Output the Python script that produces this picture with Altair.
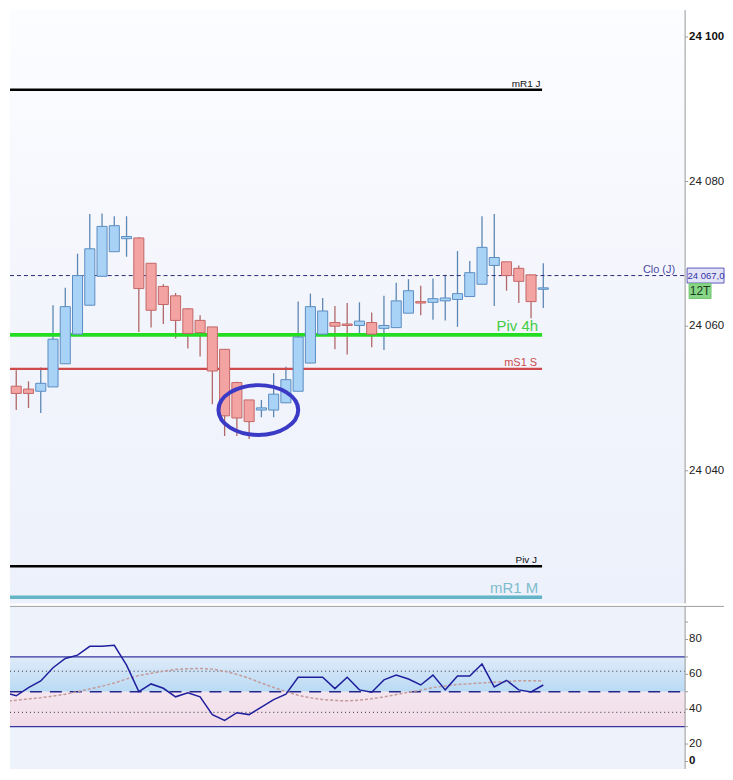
import altair as alt
import pandas as pd

# ---------------- data ----------------
opens = [24051.2, 24051.7, 24051.3, 24051.0, 24051.6, 24054.8, 24058.9, 24062.9, 24066.9, 24070.3,
         24072.1, 24072.2, 24068.7, 24065.5, 24064.2, 24062.4, 24060.8, 24059.9, 24056.8, 24052.2,
         24049.8, 24048.4, 24048.4, 24049.4, 24051.0, 24054.9, 24058.9, 24060.5, 24060.3, 24060.1,
         24060.5, 24059.7, 24059.8, 24061.8, 24063.4, 24063.3, 24063.5, 24063.7, 24064.1, 24065.8,
         24068.4, 24068.9, 24068.0, 24067.1, 24065.1]
highs = [24054.8, 24053.9, 24052.4, 24054.3, 24062.9, 24065.3, 24070.0, 24075.5, 24075.6, 24075.2,
         24075.2, 24072.3, 24068.7, 24065.8, 24064.6, 24062.5, 24061.5, 24059.9, 24056.8, 24052.3,
         24049.8, 24049.8, 24053.5, 24054.4, 24063.4, 24064.5, 24063.9, 24062.8, 24063.2, 24063.3,
         24061.9, 24064.2, 24066.0, 24066.5, 24065.6, 24066.6, 24067.1, 24070.4, 24069.0, 24075.2,
         24075.5, 24068.9, 24068.4, 24067.1, 24068.7]
lows = [24049.7, 24048.4, 24048.7, 24048.0, 24051.6, 24054.8, 24058.9, 24062.9, 24066.9, 24070.3,
        24069.6, 24059.2, 24059.8, 24060.3, 24058.3, 24056.9, 24055.8, 24049.2, 24044.8, 24044.8,
        24044.4, 24047.4, 24047.4, 24049.4, 24051.0, 24054.9, 24058.9, 24056.8, 24056.1, 24058.8,
        24057.1, 24056.7, 24059.8, 24061.8, 24061.5, 24060.9, 24060.8, 24059.9, 24064.1, 24065.8,
        24062.8, 24064.9, 24063.2, 24061.1, 24062.5]
closes = [24052.2, 24050.7, 24050.7, 24052.1, 24058.2, 24062.7, 24067.0, 24070.7, 24073.8, 24073.9,
          24072.4, 24065.2, 24062.2, 24063.0, 24060.8, 24059.0, 24059.1, 24053.8, 24047.6, 24047.3,
          24046.8, 24048.7, 24050.6, 24052.6, 24058.5, 24062.7, 24062.1, 24060.0, 24060.1, 24060.7,
          24058.9, 24060.1, 24063.5, 24064.9, 24063.2, 24063.8, 24063.9, 24064.5, 24067.4, 24070.9,
          24069.5, 24067.0, 24066.2, 24063.4, 24065.3]

rsi = [49.7, 47.7, 52.4, 56.2, 63.8, 69.1, 71.0, 76.1, 76.1, 76.7,
       65.3, 50.1, 54.5, 52.0, 47.1, 49.4, 47.1, 36.9, 33.6, 38.0,
       36.9, 41.2, 45.5, 48.6, 58.3, 58.3, 58.3, 51.8, 58.3, 51.1,
       49.7, 56.8, 59.6, 57.3, 53.9, 59.6, 51.1, 59.0, 59.0, 65.9,
       52.8, 56.6, 51.1, 49.9, 53.9]
rsi_ma = [44.4, 45.2, 45.9, 46.6, 47.5, 48.6, 50.1, 51.6, 53.2, 55.0,
          57.4, 59.3, 60.6, 61.8, 62.8, 63.2, 63.4, 63.0, 61.8, 60.0,
          57.8, 55.0, 52.5, 50.1, 48.0, 46.5, 45.6, 45.0, 44.8, 45.2,
          46.0, 47.0, 48.4, 49.8, 51.0, 52.4, 53.3, 54.2, 54.6, 55.1,
          55.5, 55.9, 56.3, 56.4, 56.2]

level_names = ["mR1 J", "Piv 4h", "mS1 S", "Piv J", "mR1 M"]
level_prices = [24092.7, 24058.8, 24054.1, 24026.8, 24022.5]

prev_close = 24067.0
prev_close_name = "Clo (J)"
tick_badge = "12T"
price_ticks = [24040, 24060, 24080, 24100]
rsi_ticks = [0, 10, 20, 30, 40, 50, 60, 70, 80, 90]
rsi_labels = [0, 20, 40, 60, 80]
rsi_bounds = [70, 50, 30]
rsi_fibs = [61.8, 38.2]
ellipse_center = [20.75, 24048.4]

# ---------------- layout / style ----------------
FONT = "Liberation Sans"
W = 677
H_MAIN = 595
H_RSI = 173
X_DOMAIN = [0.49, 55.57]
Y_DOMAIN = [24021.66, 24103.72]
AX = "#9a9a9a"

level_style = {
    "mR1 J": dict(color="#000000", lcolor="#111111", width=2.3, size=10, dx=-1.5, dy=-3),
    "Piv 4h": dict(color="#22dd22", lcolor="#44cc44", width=3.6, size=15, dx=-4, dy=-4),
    "mS1 S": dict(color="#cf4a4a", lcolor="#cc4c4c", width=2.2, size=11, dx=-5, dy=-3),
    "Piv J": dict(color="#000000", lcolor="#111111", width=2.3, size=10, dx=-5, dy=-3),
    "mR1 M": dict(color="#62b4c6", lcolor="#7dbccc", width=3.6, size=15, dx=-4, dy=-4),
}

n = len(opens)
idx = list(range(n))
candles = pd.DataFrame({"i": idx, "open": opens, "high": highs, "low": lows, "close": closes})
candles["dir"] = ["up" if c >= o else "down" for o, c in zip(opens, closes)]

xs = alt.Scale(domain=X_DOMAIN, nice=False, zero=False)
ys = alt.Scale(domain=Y_DOMAIN, nice=False, zero=False)

one = pd.DataFrame({"k": [0]})

bg = alt.Chart(one).mark_rect(
    color=alt.Gradient(
        gradient="linear",
        stops=[alt.GradientStop(color="#fcfdff", offset=0),
               alt.GradientStop(color="#f3f5fc", offset=0.5),
               alt.GradientStop(color="#edf1fb", offset=1)],
        x1=0, x2=0, y1=0, y2=1)
).encode(x=alt.value(0), x2=alt.value(W), y=alt.value(0), y2=alt.value(H_MAIN))

# price axis drawn from the tick list through the y scale
tick_df = pd.DataFrame({"v": price_ticks})
tick_df["bold"] = tick_df["v"] == max(price_ticks)
ax_domain = alt.Chart(one).mark_rule(color=AX, strokeWidth=1).encode(
    x=alt.value(W), y=alt.value(0), y2=alt.value(H_MAIN))
ax_ticks = alt.Chart(tick_df).mark_rule(color=AX, strokeWidth=1).encode(
    x=alt.value(W), x2=alt.value(W + 3), y=alt.Y("v:Q", scale=ys, axis=None))
ax_lbl = alt.Chart(tick_df).transform_calculate(
    lbl="replace(format(datum.v, ',d'), ',', ' ')")
ax_labels = ax_lbl.transform_filter("!datum.bold").mark_text(
    align="left", baseline="middle", fontSize=11.5, color="#222222", font=FONT).encode(
    x=alt.value(W + 4), y=alt.Y("v:Q", scale=ys, axis=None), text="lbl:N")
ax_labels_b = ax_lbl.transform_filter("datum.bold").mark_text(
    align="left", baseline="middle", fontSize=11.5, fontWeight="bold", color="#111111", font=FONT).encode(
    x=alt.value(W + 4), y=alt.Y("v:Q", scale=ys, axis=None), text="lbl:N")

wicks = alt.Chart(candles).mark_rule(strokeWidth=1.3, clip=True).encode(
    x=alt.X("i:Q", scale=xs, axis=None),
    y=alt.Y("low:Q", scale=ys, axis=None),
    y2="high:Q",
    color=alt.Color("dir:N", scale=alt.Scale(domain=["up", "down"], range=["#5d87b3", "#b06868"]), legend=None),
)

bodies = alt.Chart(candles).transform_calculate(
    xl="datum.i - 0.41", xr="datum.i + 0.41"
).mark_rect(strokeWidth=1, clip=True).encode(
    x=alt.X("xl:Q", scale=xs, axis=None),
    x2="xr:Q",
    y=alt.Y("open:Q", scale=ys, axis=None),
    y2="close:Q",
    fill=alt.Fill("dir:N", scale=alt.Scale(domain=["up", "down"], range=["#a9d3f6", "#f4a3a3"]), legend=None),
    stroke=alt.Stroke("dir:N", scale=alt.Scale(domain=["up", "down"], range=["#5b8dc2", "#c46666"]), legend=None),
)

levels = pd.DataFrame({"name": level_names, "price": level_prices})
levels["start"] = X_DOMAIN[0]
levels["end"] = n - 1.1

level_layers = []
for nm in level_names:
    st = level_style[nm]
    src = alt.Chart(levels).transform_filter(alt.datum.name == nm)
    level_layers.append(src.mark_rule(color=st["color"], strokeWidth=st["width"]).encode(
        x=alt.X("start:Q", scale=xs, axis=None), x2="end:Q",
        y=alt.Y("price:Q", scale=ys, axis=None)))
    level_layers.append(src.mark_text(align="right", baseline="alphabetic", dx=st["dx"], dy=st["dy"],
                                      fontSize=st["size"], color=st["lcolor"], font=FONT).encode(
        x=alt.X("end:Q", scale=xs, axis=None),
        y=alt.Y("price:Q", scale=ys, axis=None), text="name:N"))

clo = pd.DataFrame({"price": [prev_close], "label": [prev_close_name],
                    "txt": [f"{prev_close:,.1f}".replace(",", " ").replace(".", ",")],
                    "badge": [tick_badge]})
clo_y = alt.Y("price:Q", scale=ys, axis=None)
clo_rule = alt.Chart(clo).mark_rule(color="#2a2a78", strokeWidth=1, strokeDash=[4, 3]).encode(
    x=alt.value(0), x2=alt.value(W), y=clo_y)
clo_text = alt.Chart(clo).mark_text(align="right", baseline="alphabetic", dy=-3, fontSize=11,
                                    color="#4a4aa8", font=FONT).encode(
    x=alt.value(667), y=clo_y, text="label:N")
price_box = alt.Chart(clo).mark_rect(fill="#e4e4f7", stroke="#5a5abf", strokeWidth=1,
                                     yOffset=-7.5, y2Offset=7.5).encode(
    x=alt.value(679), x2=alt.value(716), y=clo_y, y2="price:Q")
price_txt = alt.Chart(clo).mark_text(align="left", baseline="middle", fontSize=9.5,
                                     color="#3535a8", font=FONT).encode(
    x=alt.value(679.5), y=clo_y, text="txt:N")
badge_box = alt.Chart(clo).mark_rect(fill="#86d686", stroke="#74c474", strokeWidth=1,
                                     yOffset=8, y2Offset=23).encode(
    x=alt.value(681), x2=alt.value(703), y=clo_y, y2="price:Q")
badge_txt = alt.Chart(clo).mark_text(align="center", baseline="middle", dy=15.5, fontSize=12,
                                     color="#1d3a1d", font=FONT).encode(
    x=alt.value(692), y=clo_y, text="badge:N")

ell_df = pd.DataFrame({"i": [ellipse_center[0]], "price": [ellipse_center[1]]})
ell_path = ("M-1,0 C-1,-0.345 -0.552,-0.625 0,-0.625 C0.552,-0.625 1,-0.345 1,0 "
            "C1,0.345 0.552,0.625 0,0.625 C-0.552,0.625 -1,0.345 -1,0 Z")
ellipse = alt.Chart(ell_df).mark_point(shape=ell_path, size=6400, filled=False,
                                        stroke="#3a3ac6", strokeWidth=4, opacity=1).encode(
    x=alt.X("i:Q", scale=xs, axis=None), y=alt.Y("price:Q", scale=ys, axis=None))

main = alt.layer(bg, ax_domain, ax_ticks, ax_labels, ax_labels_b, wicks, *level_layers,
                 clo_rule, clo_text, bodies, ellipse,
                 price_box, price_txt, badge_box, badge_txt).properties(width=W, height=H_MAIN)

# ---------------- RSI panel ----------------
ry = alt.Scale(domain=[0, 99], nice=False, zero=False)
rsi_df = pd.DataFrame({"i": idx, "rsi": rsi, "ma": rsi_ma})

rsi_bg = alt.Chart(one).mark_rect(color="#eef2fb").encode(
    x=alt.value(0), x2=alt.value(W), y=alt.value(0), y2=alt.value(H_RSI))

bands = pd.DataFrame({"top": [rsi_bounds[0]], "mid": [rsi_bounds[1]], "bot": [rsi_bounds[2]]})
band_hi = alt.Chart(bands).mark_rect(color=alt.Gradient(
    gradient="linear",
    stops=[alt.GradientStop(color="#dfebf9", offset=0), alt.GradientStop(color="#b9daf4", offset=1)],
    x1=0, x2=0, y1=0, y2=1)).encode(
    x=alt.value(0), x2=alt.value(W), y=alt.Y("top:Q", scale=ry, axis=None), y2="mid:Q")
band_lo = alt.Chart(bands).mark_rect(color=alt.Gradient(
    gradient="linear",
    stops=[alt.GradientStop(color="#f4e6ef", offset=0), alt.GradientStop(color="#f1dbe6", offset=1)],
    x1=0, x2=0, y1=0, y2=1)).encode(
    x=alt.value(0), x2=alt.value(W), y=alt.Y("mid:Q", scale=ry, axis=None), y2="bot:Q")

bnd_df = pd.DataFrame({"v": [rsi_bounds[0], rsi_bounds[2]]})
bound_lines = alt.Chart(bnd_df).mark_rule(color="#3535a0", strokeWidth=1.3).encode(
    x=alt.value(0), x2=alt.value(W), y=alt.Y("v:Q", scale=ry, axis=None))
mid_df = pd.DataFrame({"v": [rsi_bounds[1]]})
mid_line = alt.Chart(mid_df).mark_rule(color="#26268a", strokeWidth=1.5, strokeDash=[12, 8]).encode(
    x=alt.value(0), x2=alt.value(W), y=alt.Y("v:Q", scale=ry, axis=None))
fib_df = pd.DataFrame({"v": rsi_fibs})
fib_lines = alt.Chart(fib_df).mark_rule(color="#333344", strokeWidth=1, strokeDash=[1, 3]).encode(
    x=alt.value(0), x2=alt.value(W), y=alt.Y("v:Q", scale=ry, axis=None))

sep = alt.Chart(one).mark_rule(color="#a0a0a0", strokeWidth=1).encode(
    x=alt.value(0), x2=alt.value(W + 39), y=alt.value(0))

# RSI axis drawn from the tick lists through the RSI scale
rtick_df = pd.DataFrame({"v": rsi_ticks})
rlab_df = pd.DataFrame({"v": rsi_labels})
rlab_df["lbl"] = [str(v) for v in rsi_labels]
r_domain = alt.Chart(one).mark_rule(color=AX, strokeWidth=1).encode(
    x=alt.value(W), y=alt.value(0), y2=alt.value(H_RSI))
r_ticks = alt.Chart(rtick_df).mark_rule(color=AX, strokeWidth=1).encode(
    x=alt.value(W), x2=alt.value(W + 3), y=alt.Y("v:Q", scale=ry, axis=None))
r_labels = alt.Chart(rlab_df).transform_filter(f"datum.v != {min(rsi_labels)}").mark_text(
    align="left", baseline="middle", fontSize=11.5, color="#222222", font=FONT).encode(
    x=alt.value(W + 4), y=alt.Y("v:Q", scale=ry, axis=None), text="lbl:N")
r_label0 = alt.Chart(rlab_df).transform_filter(f"datum.v == {min(rsi_labels)}").mark_text(
    align="left", baseline="bottom", dy=-13, fontSize=11.5, fontWeight="bold", color="#111111",
    font=FONT).encode(
    x=alt.value(W + 4), y=alt.Y("v:Q", scale=ry, axis=None), text="lbl:N")

ma_line = alt.Chart(rsi_df).mark_line(color="#c49a9a", strokeWidth=1.5, strokeDash=[3, 2], clip=True).encode(
    x=alt.X("i:Q", scale=xs, axis=None), y=alt.Y("ma:Q", scale=ry, axis=None))
rsi_line = alt.Chart(rsi_df).mark_line(color="#1f1f9e", strokeWidth=1.5, clip=True).encode(
    x=alt.X("i:Q", scale=xs, axis=None), y=alt.Y("rsi:Q", scale=ry, axis=None))

rsi_chart = alt.layer(rsi_bg, band_hi, band_lo, fib_lines, bound_lines, mid_line,
                      ma_line, rsi_line, r_domain, r_ticks, r_labels, r_label0,
                      sep).properties(width=W, height=H_RSI)

chart = alt.vconcat(main, rsi_chart, spacing=1).properties(
    padding={"left": 0, "top": 0, "right": 0, "bottom": -12}
).configure(background="white", view=alt.ViewConfig(strokeWidth=0))

chart.save("out.html", embed_options={"renderer": "svg", "actions": False})
